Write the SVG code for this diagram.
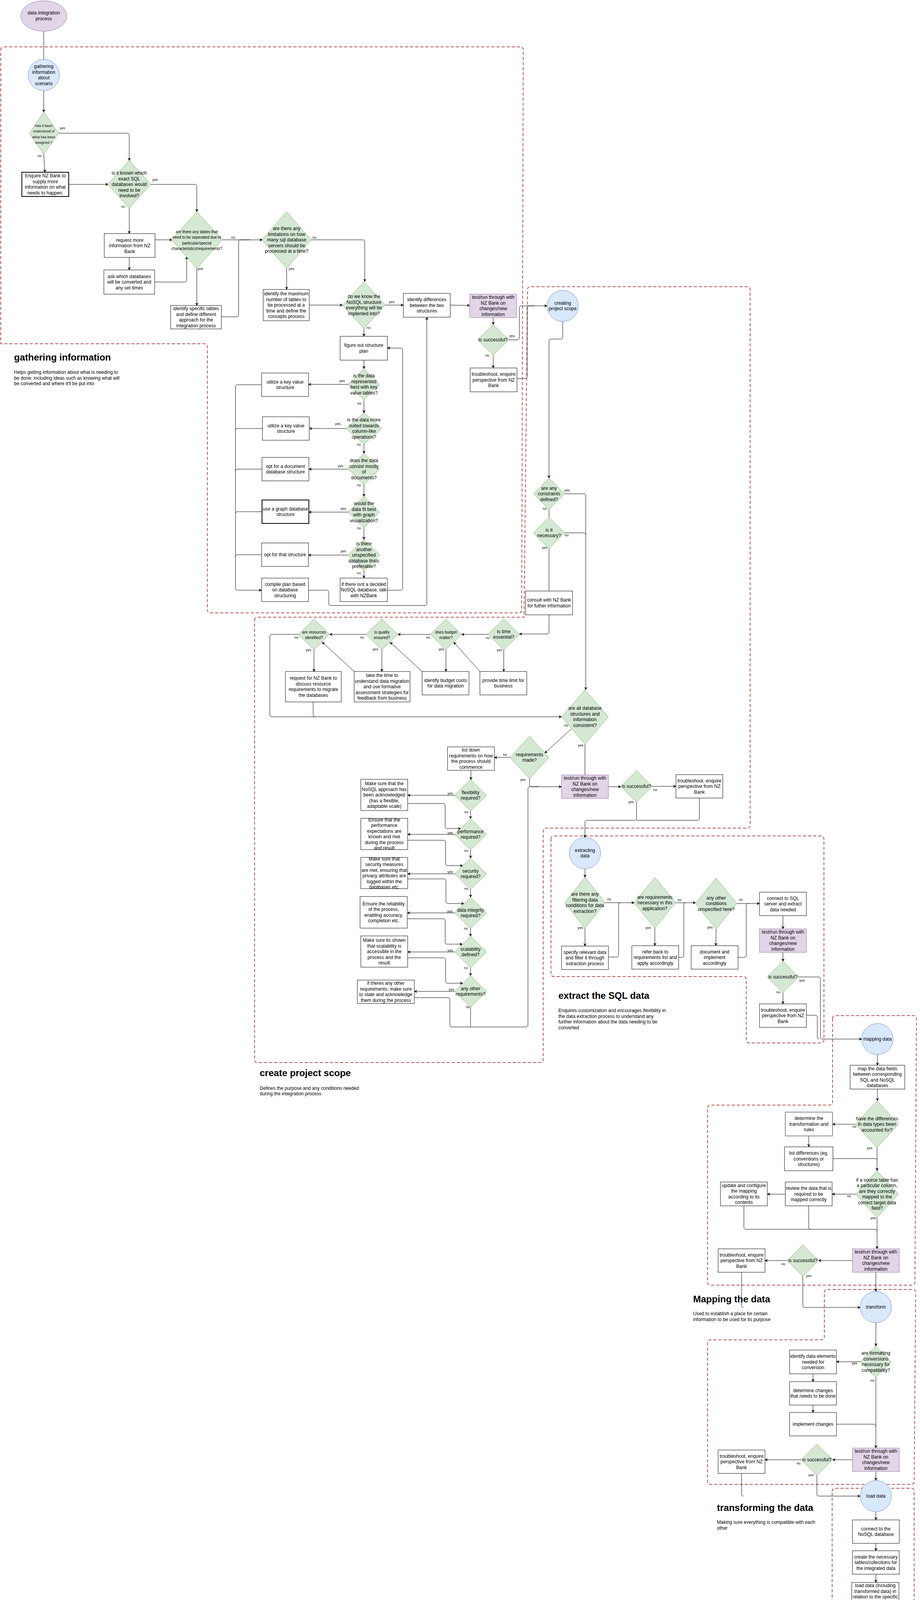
<svg xmlns="http://www.w3.org/2000/svg" width="2356" height="5532" viewBox="0 0 2356 5532">
<defs>
<marker id="arr" viewBox="0 0 10 10" refX="9" refY="5" markerWidth="9" markerHeight="8" markerUnits="userSpaceOnUse" orient="auto"><path d="M0,0 L10,5 L0,10 L3,5 z" fill="#000"/></marker>
<style>
text{font-family:"Liberation Sans",Arial,Helvetica,sans-serif;fill:#000}
.t{font-size:12px;text-anchor:middle}
.s9{font-size:9px;text-anchor:middle}
.s10{font-size:10px;text-anchor:middle}
.lb{font-size:9px;text-anchor:middle}
.h{font-size:24px;font-weight:bold}
.d{font-size:12px}
.box{fill:#fff;stroke:#000;stroke-width:1}
.thick{fill:#fff;stroke:#000;stroke-width:2}
.gray{fill:#fff;stroke:#666;stroke-width:1.5}
.dia{fill:#d5e8d4;stroke:#82b366;stroke-width:1}
.pur{fill:#e1d5e7;stroke:#9673a6;stroke-width:1}
.blu{fill:#dae8fc;stroke:#6c8ebf;stroke-width:1}
.e{fill:none;stroke:#000;stroke-width:1}
.ea{fill:none;stroke:#000;stroke-width:1;marker-end:url(#arr)}
.zone{fill:none;stroke:#b85450;stroke-width:2;stroke-dasharray:8 5;stroke-linejoin:round}
.zoneb{fill:none;stroke:#000;stroke-width:2.5;stroke-dasharray:8 5;stroke-linejoin:round}
</style>
</defs>
<rect width="2356" height="5532" fill="#fff"/>

<g id="zones">
<path class="zone" d="M2,128 Q2,120 10,120 H1332 Q1340,120 1340,128 L1336,1561 Q1336,1569 1328,1569 H539 Q531,1569 531,1561 V888 Q531,880 523,880 H2 Z"/>
<path class="zone" d="M652,1588 Q652,1580 660,1580 H1342 L1351,742 Q1351,734 1359,734 H1913 Q1921,734 1921,742 V2112 Q1921,2120 1913,2120 H1399 Q1391,2120 1391,2128 V2712 Q1391,2720 1383,2720 H660 Q652,2720 652,2712 Z"/>
<path class="zone" d="M1411,2148 Q1411,2140 1419,2140 H2102 Q2110,2140 2110,2148 V2662 Q2110,2670 2102,2670 H1919 Q1911,2670 1911,2662 V2508 Q1911,2500 1903,2500 H1419 Q1411,2500 1411,2492 Z"/>
<path class="zone" d="M2132,2608 Q2132,2600 2140,2600 H2339 Q2347,2600 2347,2608 L2343,3282 Q2343,3290 2335,3290 H1820 Q1812,3290 1812,3282 V2837 Q1812,2829 1820,2829 H2124 Q2132,2829 2132,2821 Z"/>
<path class="zone" d="M2111,3309 Q2111,3301 2119,3301 H2337 Q2345,3301 2345,3309 L2341,3792 Q2341,3800 2333,3800 H1820 Q1812,3800 1812,3792 V3438 Q1812,3430 1820,3430 H2103 Q2111,3430 2111,3422 Z"/>
<path class="zone" d="M2131,3818 Q2131,3810 2139,3810 H2333 Q2341,3810 2341,3818 V4712 Q2341,4720 2333,4720 H2150 Q2142,4720 2142,4728 V4841 Q2142,4849 2134,4849 H1809 Q1801,4849 1801,4841 V4108 Q1801,4100 1809,4100 H2123 Q2131,4100 2131,4092 Z"/>
<path class="zone" d="M2171,4742 Q2171,4734 2179,4734 H2331 Q2339,4734 2339,4742 V5032 Q2339,5040 2331,5040 H2179 Q2171,5040 2171,5048 V5121 Q2171,5129 2163,5129 H1809 Q1801,5129 1801,5121 V4949 Q1801,4941 1809,4941 H2163 Q2171,4941 2171,4933 Z"/>
<path class="zoneb" d="M2194,5059 Q2194,5051 2202,5051 H2303 Q2311,5051 2311,5059 V5401 Q2311,5409 2303,5409 H2170 Q2162,5409 2162,5401 V5150 Q2162,5142 2170,5142 H2186 Q2194,5142 2194,5134 Z"/>
</g>

<g id="connectors">
<path class="e" d="M112,80 V152"/>
<path class="ea" d="M112,232 V287"/>
<path class="ea" d="M150,341 H326 Q331,341 331,346 V411"/>
<path class="ea" d="M112,395 L115,441"/>
<path class="ea" d="M176,472 H277"/>
<path class="ea" d="M386,472 H499 Q504,472 504,477 V542"/>
<path class="ea" d="M331,533 V598"/>
<path class="ea" d="M396,614 H441"/>
<path class="ea" d="M331,659 V691"/>
<path class="ea" d="M396,722 H473 Q478,722 478,717 V657"/>
<path class="ea" d="M568,614 H672"/>
<path class="ea" d="M504,687 V782"/>
<path class="e" d="M567,811 H606 Q611,811 611,806 V619 Q611,614 616,614 H640"/>
<path class="ea" d="M797,614 H929 Q934,614 934,619 V721"/>
<path class="ea" d="M734,687 V741"/>
<path class="ea" d="M792,781 H877"/>
<path class="ea" d="M987,781 H1033"/>
<path class="ea" d="M1153,781 L1203,782"/>
<path class="ea" d="M1263,813 V831"/>
<path class="ea" d="M1303,870 H1325 Q1330,870 1330,865 V788 Q1330,783 1335,783 H1401"/>
<path class="ea" d="M1263,909 V942"/>
<path class="e" d="M1324,969 H1345 Q1350,969 1350,964 V788 Q1350,783 1355,783 H1370"/>
<path class="ea" d="M1441,823 V863 Q1441,868 1436,868 H1411 Q1406,868 1406,873 V1224"/>
<path class="ea" d="M932,841 V861"/>
<path class="ea" d="M932,922 V944"/>
<path class="ea" d="M892,984 H790"/>
<path class="ea" d="M932,1024 V1057"/>
<path class="ea" d="M886,1097 H792"/>
<path class="ea" d="M932,1137 V1161"/>
<path class="ea" d="M892,1201 H791"/>
<path class="ea" d="M932,1241 V1271"/>
<path class="ea" d="M892,1311 H791"/>
<path class="ea" d="M932,1351 V1381"/>
<path class="ea" d="M891,1421 H790"/>
<path class="ea" d="M932,1461 V1480"/>
<path class="ea" d="M670,985 H608 Q603,985 603,990 V1506 Q603,1511 608,1511 H670"/>
<path class="e" d="M672,1097 H608 Q603,1097 603,1102"/>
<path class="e" d="M671,1201 H608 Q603,1201 603,1206"/>
<path class="e" d="M671,1310 H608 Q603,1310 603,1315"/>
<path class="e" d="M670,1420 H608 Q603,1420 603,1425"/>
<path class="ea" d="M790,1511 H837 Q842,1511 842,1516 V1545 Q842,1550 847,1550 H1088 Q1093,1550 1093,1545 V812"/>
<path class="ea" d="M992,1511 H1026 Q1031,1511 1031,1506 V896 Q1031,891 1026,891 H992"/>

<path class="ea" d="M1446,1264 H1495 Q1500,1264 1500,1269 V1766"/>
<path class="e" d="M1406,1304 V1324"/>
<path class="e" d="M1446,1364 H1495 Q1500,1364 1500,1369"/>
<path class="e" d="M1406,1404 V1513"/>
<path class="ea" d="M1406,1574 V1618 Q1406,1623 1401,1623 H1330"/>
<path class="ea" d="M1250,1624 H1182"/>
<path class="ea" d="M1102,1624 H1019"/>
<path class="ea" d="M937,1624 H844"/>
<path class="ea" d="M764,1624 H696 Q691,1624 691,1629 V1830 Q691,1835 696,1835 H1438"/>
<path class="ea" d="M804,1663 V1719"/>
<path class="ea" d="M978,1663 V1719"/>
<path class="ea" d="M1142,1663 V1719"/>
<path class="ea" d="M1290,1664 V1719"/>
<path class="ea" d="M907,1719 L825,1644"/>
<path class="ea" d="M1081,1719 L999,1644"/>
<path class="ea" d="M1229,1719 L1162,1644"/>
<path class="e" d="M802,1797 V1830 Q802,1835 807,1835"/>
<path class="ea" d="M1463,1866 L1395,1928"/>
<path class="e" d="M1498,1905 V1984"/>
<path class="ea" d="M1306,1939 H1266"/>
<path class="ea" d="M1356,1993 V2009 Q1356,2014 1361,2014 H1438"/>
<path class="ea" d="M1206,1972 V1996"/>
<path class="ea" d="M1164,2036 H1044"/>
<path class="ea" d="M1164,2136 H1044"/>
<path class="ea" d="M1164,2237 H1044"/>
<path class="ea" d="M1164,2337 H1043"/>
<path class="ea" d="M1164,2437 H1044"/>
<path class="ea" d="M1164,2538 H1061"/>
<path class="ea" d="M1205,2076 V2096"/>
<path class="ea" d="M1205,2176 V2197"/>
<path class="ea" d="M1205,2277 V2297"/>
<path class="ea" d="M1205,2377 V2397"/>
<path class="ea" d="M1205,2477 V2498"/>
<path class="e" d="M1205,2578 V2629"/>
<path class="ea" d="M1044,2057 H1135 Q1140,2057 1140,2062 V2116 Q1140,2121 1145,2121 H1180"/>
<path class="ea" d="M1044,2151 H1136 Q1141,2151 1141,2156 V2211 Q1141,2216 1146,2216 H1185"/>
<path class="ea" d="M1044,2250 H1137 Q1142,2250 1142,2255 V2308 Q1142,2313 1147,2313 H1188"/>
<path class="ea" d="M1043,2352 H1135 Q1140,2352 1140,2357 V2412 Q1140,2417 1145,2417 H1184"/>
<path class="ea" d="M1044,2452 H1136 Q1141,2452 1141,2457 V2512 Q1141,2517 1146,2517 H1185"/>
<path class="e" d="M1061,2554 H1147 Q1152,2554 1152,2559 V2624 Q1152,2629 1157,2629 H1347 Q1352,2629 1352,2624 V2019 Q1352,2014 1357,2014 H1380"/>
<path class="ea" d="M1558,2014 H1590"/>
<path class="ea" d="M1670,2013 H1731"/>
<path class="ea" d="M1630,2053 V2095 Q1630,2100 1625,2100 H1503 Q1498,2100 1498,2105 V2144"/>
<path class="e" d="M1791,2043 V2095 Q1791,2100 1786,2100 H1630"/>

<path class="ea" d="M1498,2224 V2246"/>
<path class="ea" d="M1550,2311 H1624"/>
<path class="ea" d="M1498,2376 V2422"/>
<path class="e" d="M1558,2450 H1579 Q1584,2450 1584,2445 V2316 Q1584,2311 1589,2311"/>
<path class="ea" d="M1730,2311 H1781"/>
<path class="ea" d="M1677,2376 V2421"/>
<path class="e" d="M1738,2451 H1746 Q1751,2451 1751,2446 V2316 Q1751,2311 1756,2311"/>
<path class="ea" d="M1887,2313 H1945"/>
<path class="ea" d="M1834,2378 L1833,2421"/>
<path class="e" d="M1890,2451 H1906 Q1911,2451 1911,2446 V2318 Q1911,2313 1916,2313"/>
<path class="ea" d="M2005,2344 V2378"/>
<path class="ea" d="M2005,2438 V2461"/>
<path class="ea" d="M2045,2501 H2096 Q2101,2501 2101,2506 V2655 Q2101,2660 2106,2660 H2207"/>
<path class="ea" d="M2005,2541 V2570"/>
<path class="e" d="M2065,2599 H2088 Q2093,2599 2093,2604 V2655 Q2093,2660 2098,2660"/>

<path class="ea" d="M2247,2700 V2727"/>
<path class="ea" d="M2247,2788 V2818"/>
<path class="ea" d="M2191,2878 H2132"/>
<path class="ea" d="M2071,2908 V2936"/>
<path class="ea" d="M2246,2938 V2997"/>
<path class="e" d="M2133,2966 H2241 Q2246,2966 2246,2971"/>
<path class="ea" d="M2191,3057 H2131"/>
<path class="ea" d="M2011,3057 H1965"/>
<path class="ea" d="M2246,3117 V3197"/>
<path class="e" d="M1905,3087 V3142 Q1905,3147 1910,3147 H2241 Q2246,3147 2246,3152"/>
<path class="e" d="M2071,3087 V3142 Q2071,3147 2076,3147"/>
<path class="ea" d="M2183,3227 H2096"/>
<path class="ea" d="M2016,3227 H1959"/>
<path class="ea" d="M2056,3267 V3342 Q2056,3347 2061,3347 H2203"/>
<path class="e" d="M1899,3257 V3342 Q1899,3347 1904,3347"/>
<path class="ea" d="M2243,3257 V3306"/>

<path class="ea" d="M2243,3386 V3446"/>
<path class="ea" d="M2203,3486 H2142"/>
<path class="ea" d="M2082,3517 V3537"/>
<path class="ea" d="M2082,3597 V3616"/>
<path class="ea" d="M2243,3526 V3707"/>
<path class="e" d="M2142,3646 H2238 Q2243,3646 2243,3651"/>
<path class="ea" d="M2183,3737 H2132"/>
<path class="ea" d="M2052,3737 H1959"/>
<path class="ea" d="M2092,3777 V3825 Q2092,3830 2097,3830 H2203"/>
<path class="e" d="M1899,3772 V3825 Q1899,3830 1904,3830"/>
<path class="ea" d="M2243,3767 V3790"/>

<path class="ea" d="M2243,3870 V3891"/>
<path class="ea" d="M2243,3951 V3970"/>
<path class="ea" d="M2243,4030 V4051"/>
<path class="ea" d="M2242,4111 V4150"/>
<path class="ea" d="M2203,4190 H2143"/>
<path class="ea" d="M2243,4230 V4250"/>
<path class="ea" d="M2203,4290 H2142"/>
<path class="ea" d="M2243,4330 V4370"/>
<path class="e" d="M2022,4190 H1967 Q1962,4190 1962,4195 V4345 Q1962,4350 1967,4350 H2238 Q2243,4350 2243,4355"/>
<path class="e" d="M2022,4290 H1967 Q1962,4290 1962,4295"/>
<path class="ea" d="M2203,4410 H2142"/>
<path class="ea" d="M2243,4450 V4481"/>
<path class="ea" d="M2243,4540 V4560"/>
<path class="ea" d="M2243,4621 V4650"/>
<path class="ea" d="M2183,4680 H2132"/>
<path class="ea" d="M2052,4680 H1959"/>
<path class="ea" d="M2092,4720 V4769 Q2092,4774 2097,4774 H2203"/>
<path class="e" d="M1899,4710 V4769 Q1899,4774 1904,4774"/>

<path class="ea" d="M2243,4814 L2242,4860"/>
<path class="ea" d="M2242,4920 V4961"/>
<path class="ea" d="M2181,4990 H2120"/>
<path class="ea" d="M2040,4990 H1948"/>
<path class="ea" d="M2080,5030 V5095 Q2080,5100 2085,5100 H2203"/>
<path class="e" d="M1888,5020 V5095 Q1888,5100 1893,5100"/>
<path class="ea" d="M2242,5020 L2243,5060"/>
<path class="ea" d="M2243,5140 V5180"/>
<path class="ea" d="M2243,5240 V5300"/>
</g>

<g id="edge-labels">
<text class="lb" x="160" y="331">yes</text><text class="lb" x="101" y="402">no</text>
<text class="lb" x="397" y="463">yes</text><text class="lb" x="315" y="532">no</text>
<text class="lb" x="597" y="611">no</text><text class="lb" x="513" y="691">yes</text>
<text class="lb" x="805" y="611">no</text><text class="lb" x="746" y="691">yes</text>
<text class="lb" x="1003" y="776">yes</text><text class="lb" x="944" y="842">no</text>
<text class="lb" x="1311" y="863">yes</text><text class="lb" x="1248" y="913">no</text>
<text class="lb" x="876" y="978">yes</text><text class="lb" x="920" y="1036">no</text>
<text class="lb" x="865" y="1088">yes</text><text class="lb" x="919" y="1141">no</text>
<text class="lb" x="872" y="1196">yes</text><text class="lb" x="919" y="1245">no</text>
<text class="lb" x="879" y="1305">yes</text><text class="lb" x="919" y="1355">no</text>
<text class="lb" x="879" y="1414">yes</text><text class="lb" x="919" y="1470">no</text>
<text class="lb" x="1452" y="1258">yes</text><text class="lb" x="1395" y="1305">no</text>
<text class="lb" x="1451" y="1373">no</text><text class="lb" x="1395" y="1405">yes</text>
<text class="lb" x="1249" y="1636">no</text><text class="lb" x="1096" y="1635">no</text>
<text class="lb" x="927" y="1635">no</text><text class="lb" x="759" y="1635">no</text>
<text class="lb" x="790" y="1667">yes</text><text class="lb" x="961" y="1665">yes</text>
<text class="lb" x="1130" y="1665">yes</text><text class="lb" x="1279" y="1667">yes</text>
<text class="lb" x="1450" y="1860">no</text><text class="lb" x="1487" y="1911">yes</text>
<text class="lb" x="1293" y="1935">no</text><text class="lb" x="1339" y="1999">yes</text>
<text class="lb" x="1678" y="2025">no</text><text class="lb" x="1616" y="2056">yes</text>
<text class="lb" x="1153" y="2034">yes</text><text class="lb" x="1194" y="2082">no</text>
<text class="lb" x="1153" y="2135">yes</text><text class="lb" x="1194" y="2181">no</text>
<text class="lb" x="1153" y="2235">yes</text><text class="lb" x="1194" y="2278">no</text>
<text class="lb" x="1152" y="2336">yes</text><text class="lb" x="1193" y="2380">no</text>
<text class="lb" x="1153" y="2436">yes</text><text class="lb" x="1193" y="2481">no</text>
<text class="lb" x="1156" y="2536">yes</text><text class="lb" x="1198" y="2581">no</text>
<text class="lb" x="1560" y="2305">no</text><text class="lb" x="1486" y="2378">yes</text>
<text class="lb" x="1740" y="2307">no</text><text class="lb" x="1660" y="2378">yes</text>
<text class="lb" x="1897" y="2306">no</text><text class="lb" x="1818" y="2377">yes</text>
<text class="lb" x="2054" y="2513">yes</text><text class="lb" x="1993" y="2543">no</text>
<text class="lb" x="2188" y="2887">no</text><text class="lb" x="2227" y="2942">yes</text>
<text class="lb" x="2174" y="3065">no</text><text class="lb" x="2236" y="3121">yes</text>
<text class="lb" x="2006" y="3239">no</text><text class="lb" x="2071" y="3269">yes</text>
<text class="lb" x="2188" y="3493">yes</text><text class="lb" x="2234" y="3537">no</text>
<text class="lb" x="2045" y="3749">no</text><text class="lb" x="2077" y="3779">yes</text>
<text class="lb" x="2188" y="4184">yes</text><text class="lb" x="2232" y="4230">no</text>
<text class="lb" x="2186" y="4284">yes</text><text class="lb" x="2228" y="4330">no</text>
<text class="lb" x="2187" y="4406">yes</text><text class="lb" x="2231" y="4453">no</text>
<text class="lb" x="2034" y="4691">no</text><text class="lb" x="2077" y="4726">yes</text>
<text class="lb" x="2022" y="5001">no</text><text class="lb" x="2065" y="5035">yes</text>
</g>

<g id="n-start"><ellipse class="pur" cx="112" cy="41" rx="59" ry="39"/><text class="t"><tspan x="112" y="37">data integration</tspan><tspan x="112" y="52">process</tspan></text></g>
<g id="n-gather"><circle class="blu" cx="112" cy="192" r="40"/><text class="t"><tspan x="112" y="174">gathering</tspan><tspan x="112" y="188.5">information</tspan><tspan x="112" y="203">about</tspan><tspan x="112" y="217.5">scenario</tspan></text></g>
<g id="n-d1"><polygon class="dia" points="112,287 150,341 112,395 75,341"/><text class="s9"><tspan x="112" y="325">Has it been</tspan><tspan x="112" y="339">understood of</tspan><tspan x="112" y="354">what has been</tspan><tspan x="112" y="368">assigned ?</tspan></text></g>
<g id="n-enquire"><rect class="thick" x="56" y="441" width="120" height="62"/><text class="t"><tspan x="116" y="454">Enquire NZ Bank to</tspan><tspan x="116" y="468.5">supply more</tspan><tspan x="116" y="483">information on what</tspan><tspan x="116" y="497.5">needs to happen.</tspan></text></g>
<g id="n-d2"><polygon class="dia" points="331,411 386,472 331,533 276,472"/><text class="t"><tspan x="331" y="447">is it known which</tspan><tspan x="331" y="461.5">exact SQL</tspan><tspan x="331" y="476">databases would</tspan><tspan x="331" y="490.5">need to be</tspan><tspan x="331" y="505">involved?</tspan></text></g>
<g id="n-request"><rect class="box" x="267" y="598" width="130" height="61"/><text class="t"><tspan x="332" y="618.5">request more</tspan><tspan x="332" y="633">information from NZ</tspan><tspan x="332" y="647.5">Bank</tspan></text></g>
<g id="n-ask"><rect class="box" x="266" y="691" width="130" height="62"/><text class="t"><tspan x="331" y="711.5">ask which databases</tspan><tspan x="331" y="726">will be converted and</tspan><tspan x="331" y="740.5">any set times</tspan></text></g>
<g id="n-d3"><polygon class="dia" points="504,542 569,614 504,687 439,614"/><text class="s10"><tspan x="504" y="596.5">are there any tables that</tspan><tspan x="504" y="611">need to be seperated due to</tspan><tspan x="504" y="625.5">particular/special</tspan><tspan x="504" y="640">characteristics/requirements?</tspan></text></g>
<g id="n-identify-tables"><rect class="box" x="437" y="782" width="130" height="60"/><text class="t"><tspan x="502" y="794">identify specific tables</tspan><tspan x="502" y="808.5">and define different</tspan><tspan x="502" y="823">approach for the</tspan><tspan x="502" y="837.5">integration process</tspan></text></g>
<g id="n-d4"><polygon class="dia" points="734,542 797,614 734,687 671,614"/><text class="t"><tspan x="734" y="589">are there any</tspan><tspan x="734" y="603.5">limitations on how</tspan><tspan x="734" y="618">many sql database</tspan><tspan x="734" y="632.5">servers should be</tspan><tspan x="734" y="647">processed at a time?</tspan></text></g>
<g id="n-max"><rect class="box" x="674" y="741" width="118" height="80"/><text class="t"><tspan x="733" y="756">identify the maximum</tspan><tspan x="733" y="770.5">number of tables to</tspan><tspan x="733" y="785">be processed at a</tspan><tspan x="733" y="799.5">time and define the</tspan><tspan x="733" y="814">concepts process</tspan></text></g>
<g id="n-d5"><polygon class="dia" points="932,721 987,781 932,841 877,781"/><text class="t"><tspan x="932" y="763.25">do we know the</tspan><tspan x="932" y="777.75">NoSQL structure</tspan><tspan x="932" y="792.25">everything will be</tspan><tspan x="932" y="806.75">implented into?</tspan></text></g>
<g id="n-diff"><rect class="box" x="1033" y="751" width="120" height="61"/><text class="t"><tspan x="1093" y="771">identify differences</tspan><tspan x="1093" y="785.5">between the two</tspan><tspan x="1093" y="800">structures</tspan></text></g>
<g id="n-test1"><rect class="pur" x="1203" y="753" width="120" height="60"/><text class="t"><tspan x="1263" y="765.25">test/run through with</tspan><tspan x="1263" y="779.75">NZ Bank on</tspan><tspan x="1263" y="794.25">changes/new</tspan><tspan x="1263" y="808.75">information</tspan></text></g>
<g id="n-succ1"><polygon class="dia" points="1263,831 1303,870 1263,909 1223,870"/><text class="t" x="1263" y="874">is successful?</text></g>
<g id="n-trouble1"><rect class="box" x="1204" y="942" width="120" height="61"/><text class="t"><tspan x="1264" y="962">troubleshoot, enquire</tspan><tspan x="1264" y="976.5">perspective from NZ</tspan><tspan x="1264" y="991">Bank</tspan></text></g>
<g id="n-figure"><rect class="box" x="871" y="861" width="121" height="61"/><text class="t"><tspan x="931.5" y="888.25">figure out structure</tspan><tspan x="931.5" y="902.75">plan</tspan></text></g>
<g id="n-q1"><polygon class="dia" points="932,944 972,984 932,1024 892,984"/><text class="t"><tspan x="932" y="966.25">is the data</tspan><tspan x="932" y="980.75">represented</tspan><tspan x="932" y="995.25">best with key</tspan><tspan x="932" y="1009.75">value tables?</tspan></text></g>
<g id="n-q2"><polygon class="dia" points="932,1057 978,1097 932,1137 886,1097"/><text class="t"><tspan x="932" y="1079.25">is the data more</tspan><tspan x="932" y="1093.75">suited towards</tspan><tspan x="932" y="1108.25">column-like</tspan><tspan x="932" y="1122.75">operations?</tspan></text></g>
<g id="n-q3"><polygon class="dia" points="932,1161 972,1201 932,1241 892,1201"/><text class="t"><tspan x="932" y="1183.25">does the data</tspan><tspan x="932" y="1197.75">consist mostly</tspan><tspan x="932" y="1212.25">of</tspan><tspan x="932" y="1226.75">documents?</tspan></text></g>
<g id="n-q4"><polygon class="dia" points="932,1271 972,1311 932,1351 892,1311"/><text class="t"><tspan x="932" y="1293.25">would the</tspan><tspan x="932" y="1307.75">data fit best</tspan><tspan x="932" y="1322.25">with graph</tspan><tspan x="932" y="1336.75">visualization?</tspan></text></g>
<g id="n-q5"><polygon class="dia" points="932,1381 973,1421 932,1461 891,1421"/><text class="t"><tspan x="932" y="1396">is there</tspan><tspan x="932" y="1410.5">another</tspan><tspan x="932" y="1425">unspecified</tspan><tspan x="932" y="1439.5">database thats</tspan><tspan x="932" y="1454">preferable?</tspan></text></g>
<g id="n-kv1"><rect class="box" x="670" y="955" width="120" height="60"/><text class="t"><tspan x="730" y="981.75">utilize a key value</tspan><tspan x="730" y="996.25">structure</tspan></text></g>
<g id="n-kv2"><rect class="box" x="672" y="1067" width="120" height="60"/><text class="t"><tspan x="732" y="1093.75">utilize a key value</tspan><tspan x="732" y="1108.25">structure</tspan></text></g>
<g id="n-doc"><rect class="box" x="671" y="1171" width="120" height="60"/><text class="t"><tspan x="731" y="1197.75">opt for a document</tspan><tspan x="731" y="1212.25">database structure</tspan></text></g>
<g id="n-graph"><rect class="thick" x="671" y="1280" width="120" height="60"/><text class="t"><tspan x="731" y="1306.75">use a graph database</tspan><tspan x="731" y="1321.25">structure</tspan></text></g>
<g id="n-that"><rect class="box" x="670" y="1390" width="120" height="60"/><text class="t" x="730" y="1424">opt for that structure</text></g>
<g id="n-compile"><rect class="box" x="670" y="1480" width="120" height="60"/><text class="t"><tspan x="730" y="1499.5">compile plan based</tspan><tspan x="730" y="1514">on database</tspan><tspan x="730" y="1528.5">structuring</tspan></text></g>
<g id="n-nodecided"><rect class="box" x="871" y="1480" width="121" height="60"/><text class="t"><tspan x="931.5" y="1499.5">if there isnt a decided</tspan><tspan x="931.5" y="1514">NoSQL database, talk</tspan><tspan x="931.5" y="1528.5">with NZBank</tspan></text></g>

<g id="n-scope"><circle class="blu" cx="1441" cy="783" r="40"/><text class="t"><tspan x="1441" y="779.75">creating</tspan><tspan x="1441" y="794.25">project scope</tspan></text></g>
<g id="n-constraints"><polygon class="dia" points="1406,1224 1446,1264 1406,1304 1366,1264"/><text class="t"><tspan x="1406" y="1253.5">are any</tspan><tspan x="1406" y="1268">constraints</tspan><tspan x="1406" y="1282.5">defined?</tspan></text></g>
<g id="n-necessary"><polygon class="dia" points="1406,1324 1446,1364 1406,1404 1366,1364"/><text class="t"><tspan x="1406" y="1360.75">is it</tspan><tspan x="1406" y="1375.25">necessary?</tspan></text></g>
<g id="n-consult"><rect class="box" x="1346" y="1513" width="120" height="61"/><text class="t"><tspan x="1406" y="1540.25">consult with NZ Bank</tspan><tspan x="1406" y="1554.75">for futher information</tspan></text></g>
<g id="n-resources"><polygon class="dia" points="804,1585 844,1624 804,1663 764,1624"/><text class="s10"><tspan x="804" y="1621.5">are resources</tspan><tspan x="804" y="1636">identified?</tspan></text></g>
<g id="n-quality"><polygon class="dia" points="978,1585 1019,1624 978,1663 937,1624"/><text class="s10"><tspan x="978" y="1621.5">is quality</tspan><tspan x="978" y="1636">ensured?</tspan></text></g>
<g id="n-budget"><polygon class="dia" points="1142,1585 1182,1624 1142,1663 1102,1624"/><text class="s10"><tspan x="1142" y="1621.5">does budget</tspan><tspan x="1142" y="1636">matter?</tspan></text></g>
<g id="n-time"><polygon class="dia" points="1290,1584 1330,1624 1290,1664 1250,1624"/><text class="t"><tspan x="1290" y="1620.75">is time</tspan><tspan x="1290" y="1635.25">essential?</tspan></text></g>
<g id="n-req-res"><rect class="box" x="731" y="1719" width="143" height="78"/><text class="t"><tspan x="802.5" y="1740.25">request for NZ Bank to</tspan><tspan x="802.5" y="1754.75">discuss resource</tspan><tspan x="802.5" y="1769.25">requirements to migrate</tspan><tspan x="802.5" y="1783.75">the databases</tspan></text></g>
<g id="n-take-time"><rect class="box" x="907" y="1719" width="143" height="78"/><text class="t"><tspan x="978.5" y="1733">take the time to</tspan><tspan x="978.5" y="1747.5">understand data migration</tspan><tspan x="978.5" y="1762">and use formative</tspan><tspan x="978.5" y="1776.5">assessment strategies for</tspan><tspan x="978.5" y="1791">feedback from business</tspan></text></g>
<g id="n-costs"><rect class="box" x="1081" y="1719" width="120" height="60"/><text class="t"><tspan x="1141" y="1745.75">identify budget costs</tspan><tspan x="1141" y="1760.25">for data migration</tspan></text></g>
<g id="n-limit"><rect class="box" x="1229" y="1719" width="120" height="60"/><text class="t"><tspan x="1289" y="1745.75">provide time limit for</tspan><tspan x="1289" y="1760.25">business</tspan></text></g>
<g id="n-consistent"><polygon class="dia" points="1498,1766 1558,1835 1498,1905 1438,1835"/><text class="t"><tspan x="1498" y="1817.25">are all database</tspan><tspan x="1498" y="1831.75">structures and</tspan><tspan x="1498" y="1846.25">information</tspan><tspan x="1498" y="1860.75">consistent?</tspan></text></g>
<g id="n-reqmade"><polygon class="dia" points="1356,1885 1406,1939 1356,1993 1306,1939"/><text class="t"><tspan x="1356" y="1935.75">requirements</tspan><tspan x="1356" y="1950.25">made?</tspan></text></g>
<g id="n-listdown"><rect class="box" x="1146" y="1912" width="120" height="60"/><text class="t"><tspan x="1206" y="1924.25">list down</tspan><tspan x="1206" y="1938.75">requirements on how</tspan><tspan x="1206" y="1953.25">the process should</tspan><tspan x="1206" y="1967.75">commence</tspan></text></g>
<g id="n-test2"><rect class="pur" x="1438" y="1984" width="120" height="60"/><text class="t"><tspan x="1498" y="1996.25">test/run through with</tspan><tspan x="1498" y="2010.75">NZ Bank on</tspan><tspan x="1498" y="2025.25">changes/new</tspan><tspan x="1498" y="2039.75">information</tspan></text></g>
<g id="n-succ2"><polygon class="dia" points="1630,1973 1670,2013 1630,2053 1590,2013"/><text class="t" x="1630" y="2017">is successful?</text></g>
<g id="n-trouble2"><rect class="box" x="1731" y="1983" width="120" height="60"/><text class="t"><tspan x="1791" y="2002.5">troubleshoot, enquire</tspan><tspan x="1791" y="2017">perspective from NZ</tspan><tspan x="1791" y="2031.5">Bank</tspan></text></g>
<g id="n-flex"><polygon class="dia" points="1205,1996 1246,2036 1205,2076 1164,2036"/><text class="t"><tspan x="1205" y="2032.75">flexibility</tspan><tspan x="1205" y="2047.25">required?</tspan></text></g>
<g id="n-perf"><polygon class="dia" points="1205,2096 1246,2136 1205,2176 1164,2136"/><text class="t"><tspan x="1205" y="2132.75">performance</tspan><tspan x="1205" y="2147.25">required?</tspan></text></g>
<g id="n-sec"><polygon class="dia" points="1205,2197 1246,2237 1205,2277 1164,2237"/><text class="t"><tspan x="1205" y="2233.75">security</tspan><tspan x="1205" y="2248.25">required?</tspan></text></g>
<g id="n-integ"><polygon class="dia" points="1205,2297 1246,2337 1205,2377 1164,2337"/><text class="t"><tspan x="1205" y="2333.75">data integrity</tspan><tspan x="1205" y="2348.25">required?</tspan></text></g>
<g id="n-scal"><polygon class="dia" points="1205,2397 1246,2437 1205,2477 1164,2437"/><text class="t"><tspan x="1205" y="2433.75">scalability</tspan><tspan x="1205" y="2448.25">defined?</tspan></text></g>
<g id="n-other"><polygon class="dia" points="1205,2498 1246,2538 1205,2578 1164,2538"/><text class="t"><tspan x="1205" y="2534.75">any other</tspan><tspan x="1205" y="2549.25">requirements?</tspan></text></g>
<g id="n-m1"><rect class="box" x="924" y="1995" width="120" height="80"/><text class="t"><tspan x="984" y="2010">Make sure that the</tspan><tspan x="984" y="2024.5">NoSQL approach has</tspan><tspan x="984" y="2039">been acknowledged</tspan><tspan x="984" y="2053.5">(has a flexible,</tspan><tspan x="984" y="2068">adaptable scale)</tspan></text></g>
<g id="n-m2"><rect class="box" x="924" y="2095" width="120" height="80"/><text class="t"><tspan x="984" y="2102.75">Ensure that the</tspan><tspan x="984" y="2117.25">performance</tspan><tspan x="984" y="2131.75">expectations are</tspan><tspan x="984" y="2146.25">known and met</tspan><tspan x="984" y="2160.75">during the process</tspan><tspan x="984" y="2175.25">and result</tspan></text></g>
<g id="n-m3"><rect class="box" x="924" y="2195" width="120" height="80"/><text class="t"><tspan x="984" y="2202.75">Make sure that</tspan><tspan x="984" y="2217.25">security measures</tspan><tspan x="984" y="2231.75">are met, ensuring that</tspan><tspan x="984" y="2246.25">privacy attributes are</tspan><tspan x="984" y="2260.75">logged within the</tspan><tspan x="984" y="2275.25">databases etc.</tspan></text></g>
<g id="n-m4"><rect class="box" x="922" y="2295" width="121" height="81"/><text class="t"><tspan x="982.5" y="2317.75">Ensure the reliability</tspan><tspan x="982.5" y="2332.25">of the process,</tspan><tspan x="982.5" y="2346.75">enabling accuracy,</tspan><tspan x="982.5" y="2361.25">completion etc.</tspan></text></g>
<g id="n-m5"><rect class="box" x="924" y="2396" width="120" height="80"/><text class="t"><tspan x="984" y="2411">Make sure its shown</tspan><tspan x="984" y="2425.5">that scalability is</tspan><tspan x="984" y="2440">accessible in the</tspan><tspan x="984" y="2454.5">process and the</tspan><tspan x="984" y="2469">result</tspan></text></g>
<g id="n-m6"><rect class="box" x="915" y="2509" width="146" height="60"/><text class="t"><tspan x="988" y="2521.25">if theres any other</tspan><tspan x="988" y="2535.75">requirements, make sure</tspan><tspan x="988" y="2550.25">to state and acknowledge</tspan><tspan x="988" y="2564.75">them during the process</tspan></text></g>

<g id="n-extract"><circle class="blu" cx="1498" cy="2184" r="40"/><text class="t"><tspan x="1498" y="2180.75">extracting</tspan><tspan x="1498" y="2195.25">data</tspan></text></g>
<g id="n-e1"><polygon class="dia" points="1498,2246 1550,2311 1498,2376 1446,2311"/><text class="t"><tspan x="1498" y="2293.25">are there any</tspan><tspan x="1498" y="2307.75">filtering data</tspan><tspan x="1498" y="2322.25">conditions for data</tspan><tspan x="1498" y="2336.75">extraction?</tspan></text></g>
<g id="n-e2"><polygon class="dia" points="1677,2246 1730,2311 1677,2376 1624,2311"/><text class="t"><tspan x="1677" y="2300.5">are requirements</tspan><tspan x="1677" y="2315">necessary in this</tspan><tspan x="1677" y="2329.5">application?</tspan></text></g>
<g id="n-e3"><polygon class="dia" points="1834,2248 1887,2313 1834,2378 1781,2313"/><text class="t"><tspan x="1834" y="2302.5">any other</tspan><tspan x="1834" y="2317">conditions</tspan><tspan x="1834" y="2331.5">unspecified here?</tspan></text></g>
<g id="n-specify"><rect class="box" x="1438" y="2422" width="120" height="60"/><text class="t"><tspan x="1498" y="2441.5">specify relevant data</tspan><tspan x="1498" y="2456">and filter it through</tspan><tspan x="1498" y="2470.5">extraction process</tspan></text></g>
<g id="n-refer"><rect class="box" x="1618" y="2421" width="120" height="60"/><text class="t"><tspan x="1678" y="2440.5">refer back to</tspan><tspan x="1678" y="2455">requirements list and</tspan><tspan x="1678" y="2469.5">apply accordingly</tspan></text></g>
<g id="n-document"><rect class="box" x="1770" y="2421" width="120" height="60"/><text class="t"><tspan x="1830" y="2440.5">document and</tspan><tspan x="1830" y="2455">implement</tspan><tspan x="1830" y="2469.5">accordingly</tspan></text></g>
<g id="n-connectsql"><rect class="box" x="1945" y="2284" width="120" height="60"/><text class="t"><tspan x="2005" y="2303.5">connect to SQL</tspan><tspan x="2005" y="2318">server and extract</tspan><tspan x="2005" y="2332.5">data needed</tspan></text></g>
<g id="n-test3"><rect class="pur" x="1945" y="2378" width="120" height="60"/><text class="t"><tspan x="2005" y="2390.25">test/run through with</tspan><tspan x="2005" y="2404.75">NZ Bank on</tspan><tspan x="2005" y="2419.25">changes/new</tspan><tspan x="2005" y="2433.75">information</tspan></text></g>
<g id="n-succ3"><polygon class="dia" points="2005,2461 2045,2501 2005,2541 1965,2501"/><text class="t" x="2005" y="2505">is successful?</text></g>
<g id="n-trouble3"><rect class="box" x="1945" y="2570" width="120" height="60"/><text class="t"><tspan x="2005" y="2589.5">troubleshoot, enquire</tspan><tspan x="2005" y="2604">perspective from NZ</tspan><tspan x="2005" y="2618.5">Bank</tspan></text></g>

<g id="n-mapping"><circle class="blu" cx="2247" cy="2660" r="40"/><text class="t" x="2247" y="2664">mapping data</text></g>
<g id="n-mapfields"><rect class="box" x="2177" y="2727" width="140" height="61"/><text class="t"><tspan x="2247" y="2739.75">map the data fields</tspan><tspan x="2247" y="2754.25">between corresponding</tspan><tspan x="2247" y="2768.75">SQL and NoSQL</tspan><tspan x="2247" y="2783.25">databases</tspan></text></g>
<g id="n-map1"><polygon class="dia" points="2246,2818 2301,2878 2246,2938 2191,2878"/><text class="t"><tspan x="2246" y="2867.5">have the differences</tspan><tspan x="2246" y="2882">in data types been</tspan><tspan x="2246" y="2896.5">accounted for?</tspan></text></g>
<g id="n-rules"><rect class="gray" x="2011" y="2847" width="121" height="61"/><text class="t"><tspan x="2071.5" y="2867">determine the</tspan><tspan x="2071.5" y="2881.5">transformation and</tspan><tspan x="2071.5" y="2896">rules</tspan></text></g>
<g id="n-listdiff"><rect class="box" x="2009" y="2936" width="124" height="61"/><text class="t"><tspan x="2071" y="2956">list differences (eg.</tspan><tspan x="2071" y="2970.5">conventions or</tspan><tspan x="2071" y="2985">structures)</tspan></text></g>
<g id="n-map2"><polygon class="dia" points="2246,2997 2301,3057 2246,3117 2191,3057"/><text class="t"><tspan x="2246" y="3024.75">if a source table has</tspan><tspan x="2246" y="3039.25">a particular column,</tspan><tspan x="2246" y="3053.75">are they correctly</tspan><tspan x="2246" y="3068.25">mapped to the</tspan><tspan x="2246" y="3082.75">correct target data</tspan><tspan x="2246" y="3097.25">field?</tspan></text></g>
<g id="n-review"><rect class="box" x="2011" y="3026" width="120" height="61"/><text class="t"><tspan x="2071" y="3046">review the data that is</tspan><tspan x="2071" y="3060.5">required to be</tspan><tspan x="2071" y="3075">mapped correctly</tspan></text></g>
<g id="n-update"><rect class="box" x="1845" y="3026" width="120" height="61"/><text class="t"><tspan x="1905" y="3038.75">update and configure</tspan><tspan x="1905" y="3053.25">the mapping</tspan><tspan x="1905" y="3067.75">according to its</tspan><tspan x="1905" y="3082.25">contents</tspan></text></g>
<g id="n-test4"><rect class="pur" x="2183" y="3197" width="120" height="60"/><text class="t"><tspan x="2243" y="3209.25">test/run through with</tspan><tspan x="2243" y="3223.75">NZ Bank on</tspan><tspan x="2243" y="3238.25">changes/new</tspan><tspan x="2243" y="3252.75">information</tspan></text></g>
<g id="n-succ4"><polygon class="dia" points="2056,3187 2096,3227 2056,3267 2016,3227"/><text class="t" x="2056" y="3231">is successful?</text></g>
<g id="n-trouble4"><rect class="box" x="1839" y="3197" width="120" height="60"/><text class="t"><tspan x="1899" y="3216.5">troubleshoot, enquire</tspan><tspan x="1899" y="3231">perspective from NZ</tspan><tspan x="1899" y="3245.5">Bank</tspan></text></g>

<g id="n-transform"><circle class="blu" cx="2243" cy="3346" r="40"/><text class="t" x="2243" y="3350">transform</text></g>
<g id="n-format"><polygon class="dia" points="2243,3446 2283,3486 2243,3526 2203,3486"/><text class="t"><tspan x="2243" y="3468.25">are formatting</tspan><tspan x="2243" y="3482.75">conversions</tspan><tspan x="2243" y="3497.25">necessary for</tspan><tspan x="2243" y="3511.75">compatibility?</tspan></text></g>
<g id="n-elements"><rect class="box" x="2022" y="3456" width="120" height="61"/><text class="t"><tspan x="2082" y="3476">identify data elements</tspan><tspan x="2082" y="3490.5">needed for</tspan><tspan x="2082" y="3505">conversion</tspan></text></g>
<g id="n-changes"><rect class="box" x="2022" y="3537" width="120" height="60"/><text class="t"><tspan x="2082" y="3563.75">determine changes</tspan><tspan x="2082" y="3578.25">that needs to be done</tspan></text></g>
<g id="n-implement"><rect class="box" x="2022" y="3616" width="120" height="60"/><text class="t" x="2082" y="3650">implement changes</text></g>
<g id="n-test5"><rect class="pur" x="2183" y="3707" width="120" height="60"/><text class="t"><tspan x="2243" y="3719.25">test/run through with</tspan><tspan x="2243" y="3733.75">NZ Bank on</tspan><tspan x="2243" y="3748.25">changes/new</tspan><tspan x="2243" y="3762.75">information</tspan></text></g>
<g id="n-succ5"><polygon class="dia" points="2092,3697 2132,3737 2092,3777 2052,3737"/><text class="t" x="2092" y="3741">is successful?</text></g>
<g id="n-trouble5"><rect class="box" x="1839" y="3712" width="120" height="60"/><text class="t"><tspan x="1899" y="3731.5">troubleshoot, enquire</tspan><tspan x="1899" y="3746">perspective from NZ</tspan><tspan x="1899" y="3760.5">Bank</tspan></text></g>

<g id="n-load"><circle class="blu" cx="2243" cy="3830" r="40"/><text class="t" x="2243" y="3834">load data</text></g>
<g id="n-nosql"><rect class="box" x="2183" y="3891" width="120" height="60"/><text class="t"><tspan x="2243" y="3917.75">connect to the</tspan><tspan x="2243" y="3932.25">NoSQL database</tspan></text></g>
<g id="n-tables"><rect class="box" x="2183" y="3970" width="120" height="60"/><text class="t"><tspan x="2243" y="3989.5">create the necessary</tspan><tspan x="2243" y="4004">tables/collections for</tspan><tspan x="2243" y="4018.5">the integrated data</tspan></text></g>
<g id="n-loadincl"><rect class="box" x="2181" y="4051" width="121" height="60"/><text class="t"><tspan x="2241.5" y="4063.25">load data (including</tspan><tspan x="2241.5" y="4077.75">transformed data) in</tspan><tspan x="2241.5" y="4092.25">relation to the specific</tspan><tspan x="2241.5" y="4106.75">mapped outlines</tspan></text></g>
<g id="n-file"><polygon class="dia" points="2243,4150 2283,4190 2243,4230 2203,4190"/><text class="t"><tspan x="2243" y="4186.75">is a source a</tspan><tspan x="2243" y="4201.25">file?</tspan></text></g>
<g id="n-loadfile1"><rect class="box" x="2022" y="4160" width="121" height="61"/><text class="t"><tspan x="2082.5" y="4187.25">load data file into</tspan><tspan x="2082.5" y="4201.75">target system</tspan></text></g>
<g id="n-dbtable"><polygon class="dia" points="2243,4250 2283,4290 2243,4330 2203,4290"/><text class="t"><tspan x="2243" y="4279.5">is the source</tspan><tspan x="2243" y="4294">a database</tspan><tspan x="2243" y="4308.5">table?</tspan></text></g>
<g id="n-loadfile2"><rect class="box" x="2022" y="4261" width="120" height="59"/><text class="t"><tspan x="2082" y="4287.25">load data file into</tspan><tspan x="2082" y="4301.75">target system</tspan></text></g>
<g id="n-private"><polygon class="dia" points="2243,4370 2283,4410 2243,4450 2203,4410"/><text class="t"><tspan x="2243" y="4399.5">is some of the</tspan><tspan x="2243" y="4414">data private</tspan><tspan x="2243" y="4428.5">information?</tspan></text></g>
<g id="n-security"><rect class="box" x="2022" y="4381" width="120" height="59"/><text class="t"><tspan x="2082" y="4400">ensure security</tspan><tspan x="2082" y="4414.5">options are</tspan><tspan x="2082" y="4429">implemeneted</tspan></text></g>
<g id="n-constr"><rect class="box" x="2183" y="4481" width="120" height="59"/><text class="t"><tspan x="2243" y="4507.25">ensure constraints</tspan><tspan x="2243" y="4521.75">are applied</tspan></text></g>
<g id="n-verifyany"><rect class="box" x="2183" y="4560" width="120" height="61"/><text class="t"><tspan x="2243" y="4587.25">verify any</tspan><tspan x="2243" y="4601.75">transformed data</tspan></text></g>
<g id="n-test6"><rect class="pur" x="2183" y="4650" width="120" height="60"/><text class="t"><tspan x="2243" y="4662.25">test/run through with</tspan><tspan x="2243" y="4676.75">NZ Bank on</tspan><tspan x="2243" y="4691.25">changes/new</tspan><tspan x="2243" y="4705.75">information</tspan></text></g>
<g id="n-succ6"><polygon class="dia" points="2092,4640 2132,4680 2092,4720 2052,4680"/><text class="t" x="2092" y="4684">is successful?</text></g>
<g id="n-trouble6"><rect class="box" x="1839" y="4650" width="120" height="60"/><text class="t"><tspan x="1899" y="4669.5">troubleshoot, enquire</tspan><tspan x="1899" y="4684">perspective from NZ</tspan><tspan x="1899" y="4698.5">Bank</tspan></text></g>

<g id="n-verify"><circle class="blu" cx="2243" cy="4774" r="40"/><text class="t"><tspan x="2243" y="4770.75">verify/handle</tspan><tspan x="2243" y="4785.25">data</tspan></text></g>
<g id="n-verifyinfo"><rect class="box" x="2181" y="4860" width="121" height="60"/><text class="t"><tspan x="2241.5" y="4879.5">verify information,</tspan><tspan x="2241.5" y="4894">review it with NZ</tspan><tspan x="2241.5" y="4908.5">Bank</tspan></text></g>
<g id="n-test7"><rect class="pur" x="2181" y="4961" width="121" height="59"/><text class="t"><tspan x="2241.5" y="4972.75">test/run through with</tspan><tspan x="2241.5" y="4987.25">NZ Bank on</tspan><tspan x="2241.5" y="5001.75">changes/new</tspan><tspan x="2241.5" y="5016.25">information</tspan></text></g>
<g id="n-succ7"><polygon class="dia" points="2080,4950 2120,4990 2080,5030 2040,4990"/><text class="t" x="2080" y="4994">is successful?</text></g>
<g id="n-trouble7"><rect class="box" x="1827" y="4961" width="121" height="59"/><text class="t"><tspan x="1887.5" y="4980">troubleshoot, enquire</tspan><tspan x="1887.5" y="4994.5">perspective from NZ</tspan><tspan x="1887.5" y="5009">Bank</tspan></text></g>

<g id="n-maint"><circle class="blu" cx="2243" cy="5100" r="40"/><text class="t" x="2243" y="5104">maintenance</text></g>
<g id="n-bugs"><rect class="blu" x="2183" y="5180" width="120" height="60"/><text class="t"><tspan x="2243" y="5185">troubleshoot when</tspan><tspan x="2243" y="5199.5">required, acting on</tspan><tspan x="2243" y="5214">fixing bugs as quickly</tspan><tspan x="2243" y="5228.5">and efficiently as</tspan><tspan x="2243" y="5243">possible</tspan></text></g>
<g id="n-end"><ellipse class="pur" cx="2243" cy="5340" rx="60" ry="40"/><text class="t"><tspan x="2243" y="5336.75">data integrated from</tspan><tspan x="2243" y="5351.25">SQL to NoSQL</tspan></text></g>

<g id="sections">
<text class="h" x="36" y="923">gathering information</text>
<text class="d"><tspan x="36" y="957">Helps getting information about what is needing to</tspan><tspan x="36" y="971.5">be done; including ideas such as knowing what will</tspan><tspan x="36" y="986">be converted and where it'll be put into</tspan></text>
<text class="h" x="665" y="2755">create project scope</text>
<text class="d"><tspan x="665" y="2790">Defines the purpose and any conditions needed</tspan><tspan x="665" y="2804">during the integration process</tspan></text>
<text class="h" x="1430" y="2557">extract the SQL data</text>
<text class="d"><tspan x="1430" y="2591">Enquires customization and encourages flexibility in</tspan><tspan x="1430" y="2605.5">the data extraction process to understand any</tspan><tspan x="1430" y="2620">further information about the data needing to be</tspan><tspan x="1430" y="2634.5">converted</tspan></text>
<text class="h" x="1775" y="3334">Mapping the data</text>
<text class="d"><tspan x="1775" y="3367">Used to establish a place for certain</tspan><tspan x="1775" y="3381.5">information to be used for its purpose</tspan></text>
<text class="h" x="1836" y="3868">transforming the data</text>
<text class="d"><tspan x="1836" y="3901">Making sure everything is compatible with each</tspan><tspan x="1836" y="3915.5">other</tspan></text>
<text class="h" x="1812" y="4881">Load data</text>
<text class="d"><tspan x="1812" y="4915">Connecting to the NoSQL and properly</tspan><tspan x="1812" y="4929.5">transferring all information</tspan></text>
<text class="h" x="1822" y="5158">Verify data</text>
<text class="d"><tspan x="1822" y="5191">Making sure all data is verified by NZ</tspan><tspan x="1822" y="5205.5">Bank, ensuring that everything is</tspan><tspan x="1822" y="5220">implemented correctly and applying</tspan><tspan x="1822" y="5234.5">room for testing and any changes if</tspan><tspan x="1822" y="5249">needed</tspan></text>
<text class="h"><tspan x="2136" y="5438">Maintenance for</tspan><tspan x="2136" y="5467">data</tspan></text>
<text class="d"><tspan x="2136" y="5501">Long term implication - used to make</tspan><tspan x="2136" y="5515">sure to keep the quality of this</tspan><tspan x="2136" y="5529">integration as best as it can be and</tspan></text>
</g>
</svg>
